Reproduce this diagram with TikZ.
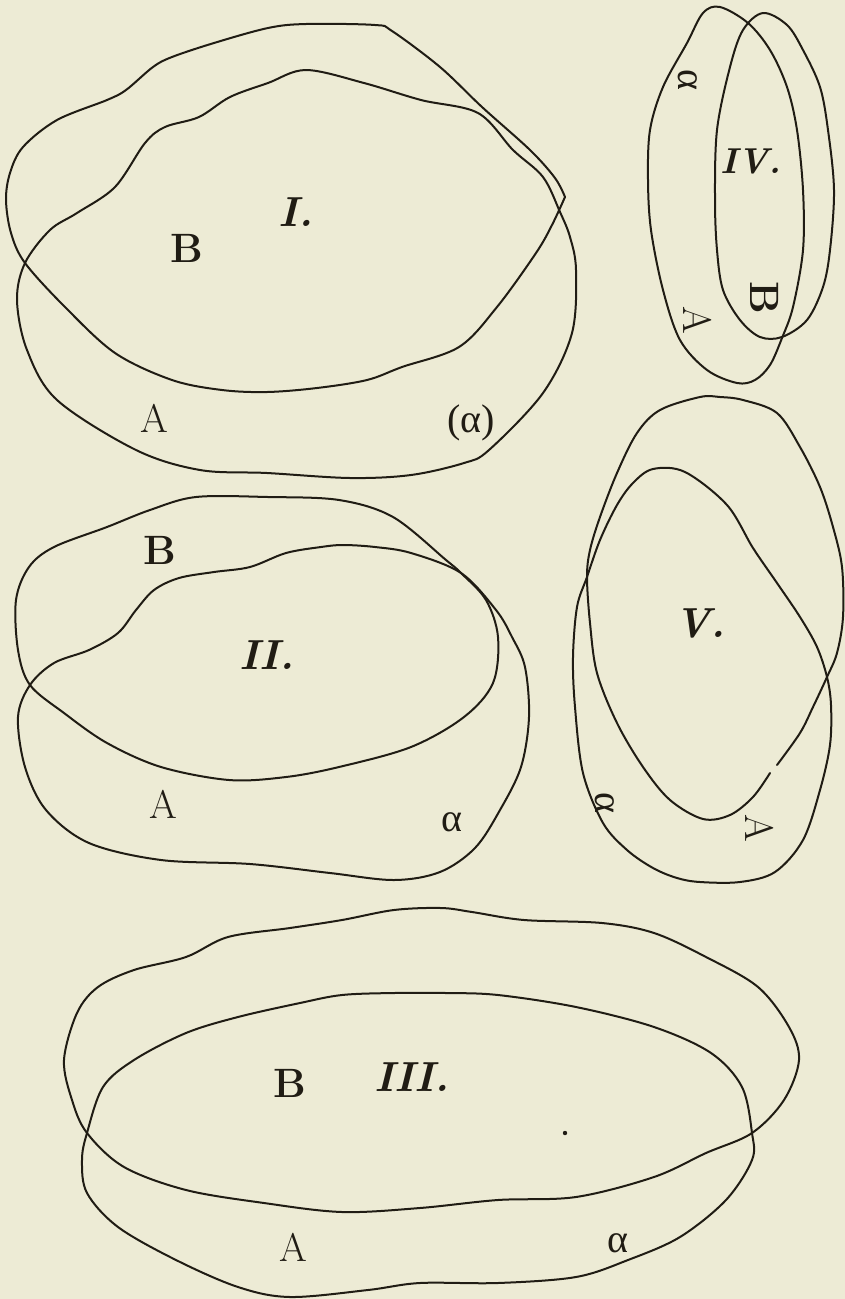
\documentclass[tikz,border=0pt]{standalone}
\usepackage{fontspec}
\newfontfamily\grk{Liberation Serif}
\definecolor{paper}{RGB}{237,235,213}
\definecolor{ink}{RGB}{32,28,20}
\tikzset{
  curve/.style={draw=ink,line width=2pt,line join=round,line cap=round},
  lab/.style={text=ink,inner sep=0pt,font=\fontsize{40}{40}\selectfont},
  num/.style={lab,font=\fontsize{42}{42}\selectfont\bfseries\itshape},
  bigB/.style={lab,font=\fontsize{41}{41}\selectfont\bfseries},
  grl/.style={lab,font=\fontsize{40}{40}\selectfont\grk}
}
\begin{document}
\begin{tikzpicture}[x=1pt,y=-1pt]
\fill[paper] (0,0) rectangle (845,1299);
\useasboundingbox (0,0) rectangle (845,1299);

% ---------- Figure I ----------
% B (upper oval), sharp corner at right
\draw[curve] plot[smooth,tension=0.55] coordinates {(565,197) (552,225) (536,253) (497,307) (459,347) (402,367) (367,380) (317,388) (267,392) (222,390) (172,380) (115,353) (65,307) (25,263) (11,233) (6,200) (10,173) (23,147) (57,120) (107,100) (126,90) (153,67) (172,57) (214,43) (268,28) (306,24) (375,25) (392,31) (440,67) (482,107) (530,150) (555,178) (565,197)};
% A (lower oval)
\draw[curve] plot[smooth cycle,tension=0.55] coordinates {(306,70) (364,83) (421,100) (478,113) (513,150) (543,177) (560,212) (570,237) (576,270) (572,333) (543,393) (489,450) (464,463) (411,475) (350,478) (267,473) (200,470) (136,450) (57,400) (27,350) (17,300) (25,263) (50,230) (77,213) (115,187) (145,143) (165,127) (199,117) (230,97) (268,83)};

\node[num] (nI) at (296,212) {I.};
\node[bigB] (bI) at (187,248) {B};
\node[lab] (aI) at (154,418) {A};
\node[grl] (alI) at (471,423) {(α)};

% ---------- Figure II ----------
\draw[curve] plot[smooth cycle,tension=0.55] coordinates {(196,497) (268,497) (339,500) (393,517) (446,560) (461,573) (486,600) (498,637) (493,683) (464,717) (411,747) (339,767) (286,777) (229,780) (161,767) (107,743) (64,713) (30,685) (18,650) (16,600) (29,567) (54,547) (107,527) (150,510)};
\draw[curve] plot[smooth cycle,tension=0.55] coordinates {(343,545) (375,547) (411,553) (461,573) (496,610) (512,637) (525,667) (529,717) (521,767) (500,810) (475,848) (440,872) (394,880) (330,873) (250,864) (161,860) (89,843) (46,810) (25,767) (18,717) (30,685) (54,663) (89,650) (118,633) (136,610) (154,590) (179,578) (214,572) (250,567) (286,553) (321,547)};

\node[bigB] (bII) at (160,550) {B};
\node[num] (nII) at (267,655) {II.};
\node[lab] (aII) at (163,804) {A};
\node[grl] (alII) at (452,822) {α};

% ---------- Figure III ----------
\draw[curve] plot[smooth cycle,tension=0.55] coordinates {(441,908) (472,912) (524,920) (602,923) (654,933) (706,957) (758,987) (789,1027) (799,1060) (784,1100) (752,1133) (706,1153) (654,1177) (576,1197) (498,1200) (420,1208) (342,1212) (264,1203) (186,1190) (124,1167) (87,1133) (72,1100) (64,1060) (77,1013) (98,987) (134,970) (186,957) (228,937) (290,928) (342,920) (394,910)};
\draw[curve] plot[smooth cycle,tension=0.55] coordinates {(394,993) (446,993) (498,995) (576,1007) (654,1027) (711,1053) (742,1087) (752,1133) (752,1160) (726,1200) (680,1237) (628,1260) (576,1277) (498,1283) (420,1283) (368,1290) (290,1297) (238,1287) (176,1260) (118,1227) (87,1193) (82,1160) (87,1133) (103,1087) (134,1060) (186,1033) (238,1017) (300,1003) (342,995)};

\node[bigB] (bIII) at (290,1083) {B};
\node[num] (nIII) at (412,1077) {III.};
\node[lab] (aIII) at (293,1247) {A};
\node[grl] (alIII) at (618,1243) {α};
\fill[ink] (565,1133) circle (2.2) coordinate (speck);

% ---------- Figure IV ----------
\draw[curve] plot[smooth cycle,tension=0.55] coordinates {(720,7) (748,23) (770,50) (787,87) (797,130) (803,190) (803,250) (793,307) (782,338) (770,365) (755,380) (737,383) (707,370) (680,340) (663,290) (651,230) (648,180) (650,130) (663,87) (687,43) (703,13)};
\draw[curve] plot[smooth cycle,tension=0.55] coordinates {(763,13) (787,25) (803,50) (820,87) (828,130) (834,190) (830,250) (823,287) (807,320) (782,337) (760,337) (740,320) (723,290) (717,250) (715,200) (717,130) (730,67) (743,30)};

\node[grl,rotate=-90] (alIV) at (688,80) {α};
\node[num,font=\fontsize{36}{36}\selectfont\bfseries\itshape] (nIV) at (751,161) {IV.};
\node[bigB,rotate=-90] (bIV) at (765,298) {B};
\node[lab,rotate=-90] (aIV) at (698,320) {A};

% ---------- Figure V ----------
\draw[curve] plot[smooth,tension=0.55] coordinates {(777,765) (800,733) (813,707) (827,677) (837,653) (843,617) (842,567) (833,527) (820,487) (800,447) (777,413) (743,400) (720,397) (700,397) (660,410) (637,433) (617,473) (600,517) (590,550) (587,577) (590,623) (597,673) (617,723) (643,767) (670,800) (703,819) (730,815) (753,797) (770,773)};
\draw[curve] plot[smooth cycle,tension=0.55] coordinates {(653,469) (685,472) (727,505) (753,548) (777,583) (800,617) (817,647) (827,677) (831,705) (830,745) (820,790) (803,840) (775,872) (740,882) (700,882) (677,878) (653,868) (627,850) (603,823) (583,773) (575,707) (573,657) (577,607) (587,577) (600,540) (617,505) (633,483)};

\node[num] (nV) at (700,623) {V.};
\node[grl,rotate=-90] (alV) at (605,803) {α};
\node[lab,rotate=-90] (aV) at (760,828) {A};
\end{tikzpicture}
\end{document}
